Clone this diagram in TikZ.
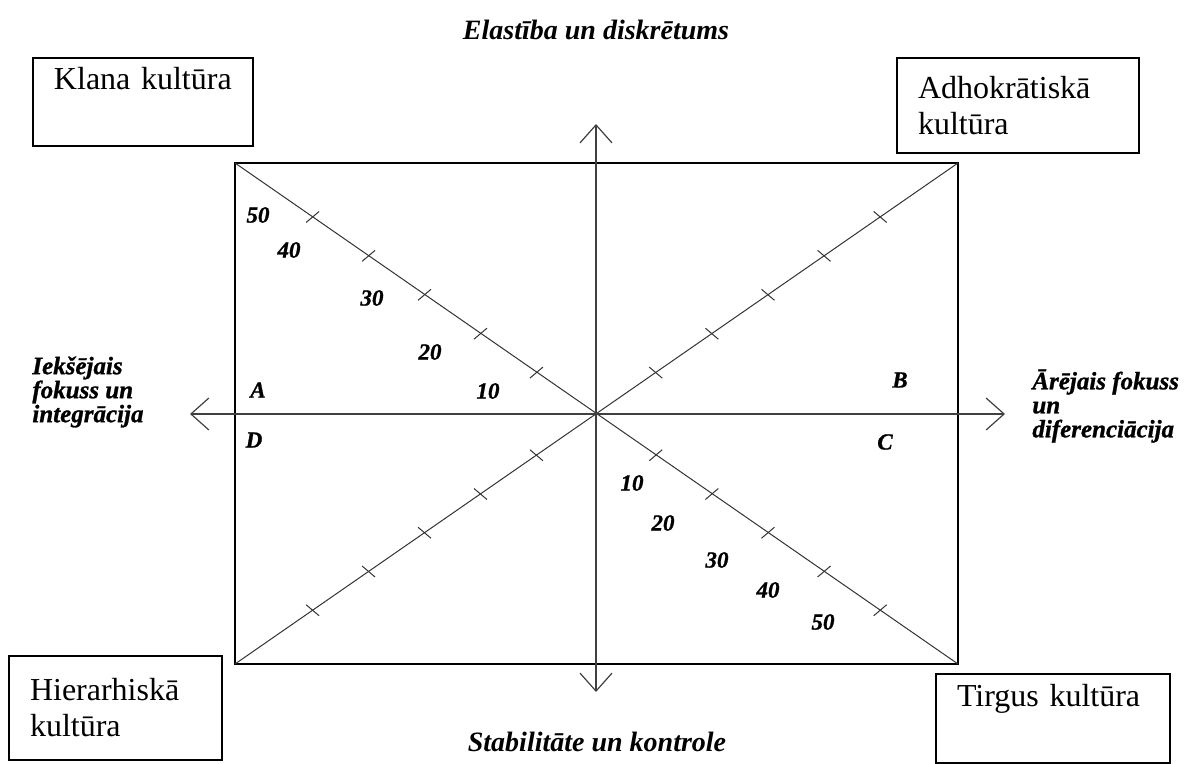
\documentclass[tikz,border=0pt]{standalone}
\usepackage{fontspec}
\setmainfont{Liberation Serif}[BoldItalicFont={Liberation Serif Bold Italic}]
\usetikzlibrary{calc,arrows.meta}

\begin{document}
\begin{tikzpicture}[x=0.5pt,y=-0.5pt,
  culture/.style={draw=black, line width=1pt, anchor=north west, align=left,
    inner xsep=10.5pt, inner ysep=0pt, font=\fontsize{16}{18}\selectfont},
  axis/.style={draw=black!75, line width=0.6pt,
    {Straight Barb[length=9pt,width=16pt]}-{Straight Barb[length=9pt,width=16pt]}},
  diag/.style={draw=black!80, line width=0.5pt},
  tick/.style={draw=black!80, line width=0.5pt},
  scale label/.style={font=\fontsize{11.5}{11.5}\selectfont\bfseries\itshape\addfontfeature{FakeBold=1}},
  pole/.style={font=\fontsize{14}{16}\selectfont\bfseries\itshape},
  focus/.style={anchor=west, align=left, inner sep=0pt,
    font=\fontsize{12.5}{12}\selectfont\bfseries\itshape\addfontfeature{FakeBold=1}}]
\useasboundingbox (0,0) rectangle (1187,764);
\def\tl{4.25pt}

\coordinate (nw) at (235,163);
\coordinate (ne) at (958,163);
\coordinate (se) at (958,664);
\coordinate (sw) at (235,664);
\coordinate (o) at (596,414);
\coordinate (axt) at (596,124);
\coordinate (axb) at (596,692);
\coordinate (axl) at (190,414);
\coordinate (axr) at (1005,414);

\draw[line width=0.9pt] (nw) rectangle (se);
\draw[diag] (nw) -- (se);
\draw[diag] (sw) -- (ne);
\draw[axis] (axb) -- (axt);
\draw[axis] (axl) -- (axr);

\foreach \c/\r in {nw/75,se/75,ne/105,sw/105}
  \foreach \f in {0.165,0.32,0.475,0.63,0.785}{
    \coordinate (t) at ($(o)!\f!(\c)$);
    \draw[tick] ($(t)!\tl!\r:(\c)$) -- ($(t)!\tl!\r-180:(\c)$);
  }

\foreach \v/\x/\y/\i in {50/258/215/1, 40/289/250/2, 30/372/298/3,
  20/430/352/4, 10/488/391/5}
  \node[scale label] (in\i) at (\x,\y) {\v};
\foreach \v/\x/\y/\i in {10/632/483/1, 20/663/523/2, 30/717/560/3,
  40/768/590/4, 50/823/622/5}
  \node[scale label] (out\i) at (\x,\y) {\v};

\foreach \q/\x/\y in {A/258/390, B/900/380, C/885/442, D/254/440}
  \node[scale label] (q\q) at (\x,\y) {\q};

\node[pole] (flex) at (596,30) {Elastība un diskrētums};
\node[pole] (stab) at (597,742) {Stabilitāte un kontrole};

\node[focus] (inner) at (32,392) {Iekšējais\\fokuss un\\integrācija};
\node[focus] (outer) at (1032,406) {Ārējais fokuss\\un\\diferenciācija};

\node[culture, text width=89pt, minimum height=44pt] (klana) at (32,57)
  {Klana kultūra\\\strut};
\node[culture, text width=100pt, minimum height=47.5pt] (adhok) at (896,57)
  {Adhokrātiskā\\kultūra};
\node[culture, text width=85.5pt, minimum height=52pt] (hier) at (8,655)
  {Hierarhiskā\\kultūra};
\node[culture, text width=96pt, minimum height=44.5pt] (tirgus) at (935,673)
  {Tirgus kultūra\\\strut};
\end{tikzpicture}
\end{document}
